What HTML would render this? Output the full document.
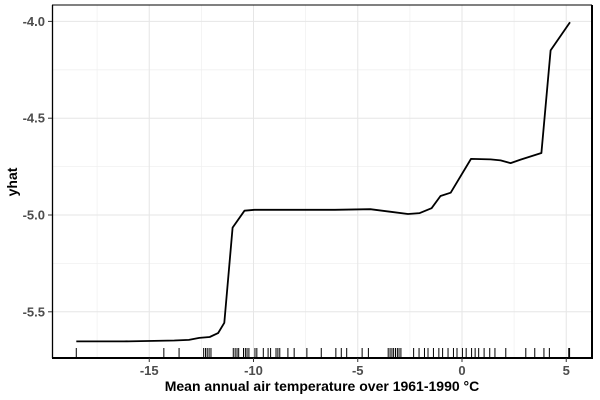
<!DOCTYPE html>
<html><head><meta charset="utf-8"><style>
body{margin:0;background:#fff;}
svg{display:block;font-family:"Liberation Sans",Arial,sans-serif;}
</style></head><body>
<svg id="chart" width="600" height="400">
<g id="grid"></g>
<g id="rug"></g>
<path id="line" fill="none" stroke="#000" stroke-width="1.8" stroke-linejoin="round"/>
<line x1="52" y1="5" x2="592" y2="5" stroke="#000" stroke-width="1"/>
<line x1="52.5" y1="5" x2="52.5" y2="358" stroke="#000" stroke-width="1.3"/>
<line x1="592" y1="5" x2="592" y2="358" stroke="#000" stroke-width="2"/>
<line x1="52" y1="358" x2="593" y2="358" stroke="#000" stroke-width="2"/>
<g id="axes"></g>
<text x="322" y="391" text-anchor="middle" font-size="14" font-weight="bold">Mean annual air temperature over 1961-1990 °C</text>
<text transform="translate(17,182) rotate(-90)" text-anchor="middle" font-size="14" font-weight="bold">yhat</text>
</svg>
<script>
const xVals=[-18.5,-16.2,-13.8,-13.1,-12.6,-12.1,-11.7,-11.4,-11.0,-10.43,-9.95,-7.8,-6.1,-4.4,-3.46,-2.59,-2.03,-1.46,-1.03,-0.54,0.43,1.37,1.85,2.33,2.81,3.81,4.25,4.49,5.18];
const yVals=[-5.653,-5.653,-5.648,-5.645,-5.635,-5.63,-5.61,-5.557,-5.065,-4.978,-4.973,-4.973,-4.973,-4.97,-4.983,-4.995,-4.99,-4.965,-4.902,-4.885,-4.71,-4.713,-4.718,-4.732,-4.714,-4.68,-4.15,-4.112,-4.004];
const rugVals=[-18.5,-14.3,-13.57,-12.39,-12.3,-12.22,-12.13,-12.04,-10.97,-10.88,-10.79,-10.71,-10.48,-10.39,-10.31,-10.22,-9.93,-9.84,-9.53,-9.3,-9.18,-8.92,-8.83,-8.74,-8.35,-8.05,-7.44,-6.75,-6.05,-5.79,-5.53,-4.79,-4.49,-3.54,-3.45,-3.36,-3.28,-3.19,-3.1,-3.02,-2.93,-2.32,-2.06,-1.8,-1.63,-1.37,-1.11,-0.93,-0.67,-0.41,-0.24,0.02,0.2,0.46,0.63,0.8,1.06,1.33,1.58,2.1,3.06,3.49,3.93,4.19,5.12,5.16];
const xTicks=[-15,-10,-5,0,5];
const xMinor=[-17.5,-12.5,-7.5,-2.5,2.5];
const yTicks=[-4.0,-4.5,-5.0,-5.5];
const yMinor=[-4.25,-4.75,-5.25];
const xs=v=>462+20.85*v, ys=v=>215-(v+5)*193.6;
const NS="http://www.w3.org/2000/svg";
function mk(parent,tag,attrs){const e=document.createElementNS(NS,tag);for(const k in attrs)e.setAttribute(k,attrs[k]);parent.appendChild(e);return e;}
const grid=document.getElementById('grid'),axes=document.getElementById('axes'),rug=document.getElementById('rug');
xMinor.forEach(v=>{const l=mk(grid,'line',{x1:xs(v),x2:xs(v),y1:5,y2:358,stroke:'#f0f0f0','stroke-width':0.8});

});
yMinor.forEach(v=>{const l=mk(grid,'line',{x1:52,x2:592,y1:ys(v),y2:ys(v),stroke:'#f0f0f0','stroke-width':0.8});

});
xTicks.forEach(v=>{const l=mk(grid,'line',{x1:xs(v),x2:xs(v),y1:5,y2:358,stroke:'#e6e6e6','stroke-width':1});


const t=mk(axes,'line',{x1:xs(v),x2:xs(v),y1:358,y2:362,stroke:'#333','stroke-width':1});


const tx=mk(axes,'text',{x:xs(v),y:375,'text-anchor':'middle','font-size':13,'font-weight':'bold',fill:'#4d4d4d'});
tx.textContent=v;

});
yTicks.forEach(v=>{const l=mk(grid,'line',{x1:52,x2:592,y1:ys(v),y2:ys(v),stroke:'#e6e6e6','stroke-width':1});


const t=mk(axes,'line',{x1:48,x2:52,y1:ys(v),y2:ys(v),stroke:'#333','stroke-width':1});


const tx=mk(axes,'text',{x:45,y:ys(v)+4.5,'text-anchor':'end','font-size':13,'font-weight':'bold',fill:'#4d4d4d'});
tx.textContent=v.toFixed(1);

});
rugVals.forEach(v=>{const l=mk(rug,'line',{x1:xs(v),x2:xs(v),y1:348,y2:358,stroke:'#000','stroke-width':1});

});
document.getElementById('line').setAttribute('d',xVals.map((v,i)=>(i?'L':'M')+xs(v).toFixed(1)+','+ys(yVals[i]).toFixed(1)).join(''));
</script>
</body></html>
